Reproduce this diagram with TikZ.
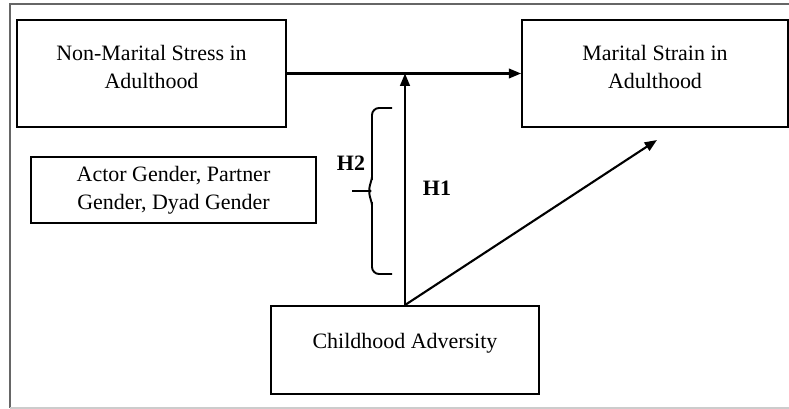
\documentclass[tikz,border=0pt]{standalone}
\usepackage{fontspec}
\setmainfont{Liberation Serif}
\usetikzlibrary{arrows.meta, positioning, calc}

\begin{document}
\begin{tikzpicture}[x=0.02cm, y=-0.02cm,
		box/.style={draw, line width=1.1pt, align=center, text depth=0.28cm,
			font=\fontsize{12.5}{16}\selectfont},
		hlabel/.style={font=\bfseries\fontsize{12.5}{15}\selectfont},
		>={Triangle[length=7pt,width=5.5pt]}]
		% Frame
		\useasboundingbox (0,0) rectangle (789,409);
		\draw[line width=1.2pt, black!60] (789,4) -- (10,4) -- (10,408);
		\draw[line width=1pt, black!20] (10,408) -- (789,408);
		
		% Boxes
		\node[box, minimum width=5.38cm, minimum height=2.14cm] (stress) at (151.5,73.5)
		{Non-Marital Stress in\\Adulthood};
		\node[box, minimum width=5.32cm, minimum height=2.14cm] (strain) at (655,73.5)
		{Marital Strain in\\Adulthood};
		\node[box, minimum width=5.7cm, minimum height=1.32cm, text depth=0.1cm] (gender) at (173.5,190)
		{Actor Gender, Partner\\Gender, Dyad Gender};
		\node[box, minimum width=5.36cm, minimum height=1.76cm, text depth=0.36cm] (adversity) at (405,350)
		{Childhood Adversity};
		
		% Paths
		\coordinate (meet) at (adversity.north |- stress.east);
		\coordinate (h1tip) at (657,140);
		\draw[->, line width=1.2pt] (stress.east) -- (strain.west);
		\draw[->, line width=1.2pt] (adversity.north) -- (meet);
		\draw[->, line width=1.2pt] (adversity.north) -- (h1tip);
		
		% Brace
		\coordinate (bracetop) at (392,108);
		\coordinate (bracebot) at (392,274);
		\coordinate (bracetip) at (352,191);
		\draw[line width=1.1pt, rounded corners=4pt]
		(bracetop) -- ++(-20,0) -- ++(0,76) to[out=90,in=0] ++(-9,7) -- (bracetip);
		\draw[line width=1.1pt, rounded corners=4pt]
		(bracebot) -- ++(-20,0) -- ++(0,-76) to[out=-90,in=0] ++(-9,-7) -- (bracetip);
		
		% Labels
		\node[hlabel] (h2) at (351,163) {H2};
		\node[hlabel] (h1) at (437,188) {H1};
	\end{tikzpicture}
\end{document}
